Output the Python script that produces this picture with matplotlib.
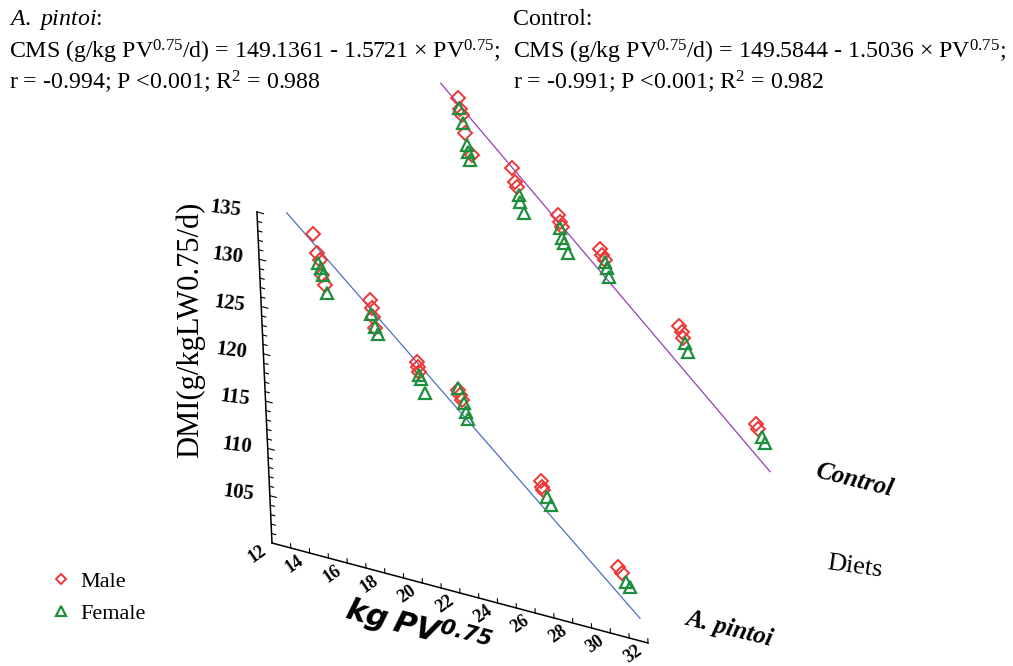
import numpy as np
import matplotlib.pyplot as plt
from matplotlib.transforms import Affine2D, offset_copy

# Diets shown along the depth axis.
diets = ["A. pintoi", "Control"]
diet_depth = [1.0, 2.0]

# A. pintoi: dry matter intake (g/kg LW0.75/d) against kg PV0.75.
apintoi_male_pv = [13.55, 13.70, 13.86, 13.91, 14.07, 16.45, 16.52, 16.59, 16.65, 18.82,
                   18.89, 18.92, 20.99, 21.07, 21.18, 25.20, 25.24, 25.30, 29.17, 29.34]
apintoi_male_dmi = [130.35, 128.46, 127.77, 126.21, 125.24, 124.91, 124.07, 123.22, 122.03, 119.64,
                    119.15, 118.63, 117.79, 117.31, 116.84, 110.43, 109.82, 109.50, 103.44, 102.83]
apintoi_female_pv = [13.76, 13.87, 14.00, 14.14, 16.47, 16.66, 16.78, 18.91, 19.00, 19.19,
                     20.99, 21.26, 21.33, 21.45, 25.49, 25.68, 29.55, 29.75]
apintoi_female_dmi = [127.37, 126.98, 126.26, 124.46, 123.44, 122.20, 121.49, 118.28, 117.88, 116.56,
                      118.01, 116.60, 115.68, 114.94, 108.89, 108.12, 102.05, 101.63]

# Control diet.
control_male_pv = [14.61, 14.67, 14.75, 14.88, 15.19, 17.31, 17.46, 17.54, 19.71, 19.78,
                   19.86, 21.87, 21.95, 22.11, 25.95, 26.07, 26.14, 29.84, 29.95]
control_male_dmi = [129.68, 128.52, 127.92, 126.06, 123.93, 123.64, 122.30, 121.82, 119.97, 119.30,
                    118.82, 117.52, 116.93, 116.49, 111.54, 111.00, 110.34, 103.20, 102.73]
control_female_pv = [14.62, 14.82, 14.95, 14.98, 15.09, 17.64, 17.68, 17.88, 19.77, 19.83,
                     19.96, 20.12, 22.11, 22.18, 22.29, 26.21, 26.37, 30.11, 30.28]
control_female_dmi = [128.56, 127.08, 124.85, 124.17, 123.34, 120.99, 120.30, 119.19, 118.60, 117.58,
                      117.11, 116.14, 116.30, 115.65, 114.81, 109.85, 109.04, 102.04, 101.49]

# Fitted lines as drawn (end points).
apintoi_fit_pv = [12.18, 30.21]
apintoi_fit_dmi = [131.88, 98.54]
control_fit_pv = [13.70, 30.48]
control_fit_dmi = [130.72, 98.53]

# Axis ranges and tick labels.
pv_range = (12, 32)
dmi_range = (100, 135)
pv_ticks = list(range(12, 33, 2))
dmi_ticks = list(range(105, 136, 5))

# Equations printed above the plot.
apintoi_text = ["$\\mathit{A.\\ pintoi}$:",
                "CMS (g/kg PV$^{0.75}$/d) = 149.1361 - 1.5721 \u00d7 PV$^{0.75}$;",
                "r = -0.994; P <0.001; R$^{2}$ = 0.988"]
control_text = ["Control:",
                "CMS (g/kg PV$^{0.75}$/d) = 149.5844 - 1.5036 \u00d7 PV$^{0.75}$;",
                "r = -0.991; P <0.001; R$^{2}$ = 0.982"]

# Oblique projection of the box (pixels per unit, y grows downward).
PX_ORIGIN = (272, 543)
EX = (18.8, 5.0)
EZ = (-0.43, -9.46)
ED = (125.0, -148.0)
FRONT = 0.8

RED = "#ee3535"
GREEN = "#1e8f3c"


def plane(ax, depth):
    # Map (kg PV, DMI) on a diet plane to figure pixels.
    ox = PX_ORIGIN[0] + (depth - FRONT) * ED[0] - pv_range[0] * EX[0] - dmi_range[0] * EZ[0]
    oy = PX_ORIGIN[1] + (depth - FRONT) * ED[1] - pv_range[0] * EX[1] - dmi_range[0] * EZ[1]
    m = np.array([[EX[0], EZ[0], ox], [EX[1], EZ[1], oy], [0, 0, 1]])
    return Affine2D(m) + ax.transData


def main():
    plt.rcParams["font.family"] = ["Liberation Serif", "DejaVu Sans"]
    plt.rcParams["mathtext.fontset"] = "custom"
    plt.rcParams["mathtext.rm"] = "Liberation Serif"
    plt.rcParams["mathtext.it"] = "Liberation Serif:italic"
    plt.rcParams["mathtext.bf"] = "Liberation Serif:bold"
    plt.rcParams["mathtext.bfit"] = "DejaVu Sans:bold:italic"

    fig = plt.figure(figsize=(10.13, 6.66), dpi=100)
    ax = fig.add_axes([0, 0, 1, 1])
    ax.set_xlim(0, 1013)
    ax.set_ylim(666, 0)
    ax.axis("off")

    front = plane(ax, FRONT)

    # Box axes: kg PV along the front and DMI upright.
    ax.plot(pv_range, [dmi_range[0]] * 2, color="black", lw=1.1, transform=front)
    ax.plot([pv_range[0]] * 2, dmi_range, color="black", lw=1.1, transform=front)
    for v in range(pv_range[0] + 1, pv_range[1] + 1):
        ax.plot([v, v], [dmi_range[0], dmi_range[0] + 0.45], color="black", lw=0.8, transform=front)
    for v in range(dmi_range[0] + 1, dmi_range[1] + 1):
        length = 0.35 if v % 5 == 0 else 0.22
        ax.plot([pv_range[0], pv_range[0] + length], [v, v], color="black", lw=0.8, transform=front)

    tick_font = dict(fontfamily="Liberation Serif", fontweight="bold")
    pv_lab = offset_copy(front, fig=fig, x=-15, y=-11, units="dots")
    for v in pv_ticks:
        ax.text(v, dmi_range[0], str(v), transform=pv_lab, rotation=35, fontsize=13,
                ha="center", va="center", **tick_font)
    dmi_lab = offset_copy(front, fig=fig, x=-15, y=3, units="dots")
    for v in dmi_ticks:
        ax.text(pv_range[0], v, str(v), transform=dmi_lab, rotation=-7, fontsize=15,
                ha="right", va="center", **tick_font)

    # Regression lines and points for each diet.
    series = [
        (apintoi_male_pv, apintoi_male_dmi, apintoi_female_pv, apintoi_female_dmi,
         apintoi_fit_pv, apintoi_fit_dmi, "#4f6fbf"),
        (control_male_pv, control_male_dmi, control_female_pv, control_female_dmi,
         control_fit_pv, control_fit_dmi, "#9440b4"),
    ]
    handles = []
    for depth, (mx, my, fx, fy, lx, ly, lcol) in zip(diet_depth, series):
        tr = plane(ax, depth)
        ax.plot(lx, ly, color=lcol, lw=0.9, transform=tr, zorder=2)
        hm, = ax.plot(mx, my, ls="none", marker="D", ms=7.0, mfc="none", mec=RED,
                      mew=1.4, transform=tr, zorder=3)
        hf, = ax.plot(fx, fy, ls="none", marker="^", ms=8.5, mfc="none", mec=GREEN,
                      mew=1.6, transform=tr, zorder=4)
        handles = [hm, hf]

    # Diet labels at the right end of each plane.
    for name, depth in zip(diets, diet_depth):
        ax.text(35.0, dmi_range[0], name, transform=plane(ax, depth), rotation=-14,
                ha="center", va="center", fontsize=18, fontweight="bold", fontstyle="italic")
    ax.text(855, 567, "Diets", rotation=-8, ha="center", va="center", fontsize=19)

    # Axis titles.
    ax.text(190, 330, "DMI(g/kgLW0.75/d)", rotation=90, ha="center", va="center", fontsize=22)
    ax.text(418, 628, "$\\mathbfit{kg\\ PV}^{\\mathbfit{0.75}}$", rotation=-15,
            ha="center", va="center", fontsize=22)

    # Equations.
    rows = [25, 58, 89]
    for y, line in zip(rows, apintoi_text):
        ax.text(9, y, line, ha="left", va="baseline", fontsize=17.2)
    for y, line in zip(rows, control_text):
        ax.text(513, y, line, ha="left", va="baseline", fontsize=17.2)

    ax.legend(handles, ["Male", "Female"], loc="upper left", bbox_to_anchor=(0.04, 0.155),
              frameon=False, fontsize=16, handlelength=1.0, handletextpad=0.4,
              labelspacing=0.5, markerscale=0.8, borderaxespad=0)

    fig.savefig("out.png", dpi=100)
    plt.close(fig)


if __name__ == "__main__":
    main()
